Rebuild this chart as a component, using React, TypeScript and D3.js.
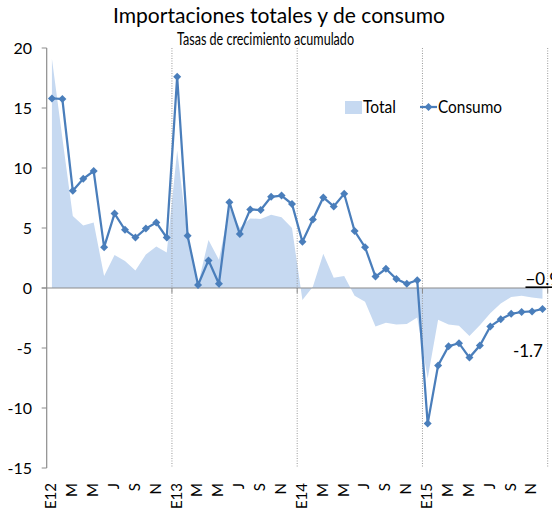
import React, { useEffect, useRef } from "react";
import * as d3 from "d3";

// meses ene-2012 .. dic-2015
const months = d3.range(48).map((i) => "m" + i);
const tickLabels = [
  "E12", "M", "M", "J", "S", "N",
  "E13", "M", "M", "J", "S", "N",
  "E14", "M", "M", "J", "S", "N",
  "E15", "M", "M", "J", "S", "N",
];
const yTicks = [-15, -10, -5, 0, 5, 10, 15, 20];

const total = [
  19.1, 12.5, 6.0, 5.2, 5.45, 1.0, 2.75, 2.25, 1.45, 2.8, 3.45, 2.95,
  11.45, 4.3, 0.3, 4.0, 2.35, 6.7, 5.0, 5.8, 5.75, 6.1, 5.9, 5.0,
  -1.0, 0.1, 2.85, 0.85, 1.0, -0.65, -1.15, -3.2, -2.9, -3.05, -3.0, -2.45,
  -7.55, -2.65, -3.05, -3.15, -4.0, -3.1, -2.1, -1.3, -0.75, -0.65, -0.8, -0.9,
];
const consumo = [
  15.8, 15.75, 8.1, 9.1, 9.75, 3.4, 6.2, 4.85, 4.2, 4.95, 5.45, 4.2,
  17.6, 4.35, 0.25, 2.3, 0.35, 7.15, 4.5, 6.55, 6.5, 7.6, 7.7, 7.0,
  3.85, 5.7, 7.55, 6.8, 7.85, 4.75, 3.4, 0.95, 1.6, 0.75, 0.35, 0.65,
  -11.3, -6.45, -4.85, -4.6, -5.8, -4.8, -3.2, -2.6, -2.15, -2.0, -1.95, -1.75,
];

const FONT = "Lato, 'Open Sans', sans-serif";
const BLUE = "#4a7ebb";
const FILL = "#c6d9f1";
const AXIS = "#8c8c8c";

const diamond = "M0,-4L4,0L0,4L-4,0Z";

const App = () => {
  const ref = useRef<SVGSVGElement>(null);

  useEffect(() => {
    const W = 552;
    const H = 518;
    const margin = { top: 48, right: 4.3, bottom: 50, left: 46.7 };

    const svg = d3.select(ref.current);
    svg.selectAll("*").remove();

    const x = d3
      .scaleBand()
      .domain(months)
      .range([margin.left, W - margin.right])
      .padding(0);
    const cx = (i: number) => (x(months[i]) as number) + x.bandwidth() / 2;
    const y = d3.scaleLinear().domain([-15, 20]).range([H - margin.bottom, margin.top]);

    // titulo
    svg
      .append("text")
      .attr("x", 279)
      .attr("y", 23)
      .attr("text-anchor", "middle")
      .attr("textLength", 332)
      .attr("lengthAdjust", "spacingAndGlyphs")
      .style("font-family", FONT)
      .style("font-size", "22px")
      .attr("fill", "#000")
      .text("Importaciones totales y de consumo");

    svg
      .append("text")
      .attr("x", 265.5)
      .attr("y", 45)
      .attr("text-anchor", "middle")
      .attr("textLength", 177)
      .attr("lengthAdjust", "spacingAndGlyphs")
      .style("font-family", FONT)
      .style("font-size", "17.5px")
      .attr("fill", "#000")
      .text("Tasas de crecimiento acumulado");

    // area total
    const area = d3
      .area<number>()
      .x((d, i) => cx(i))
      .y0(y(0))
      .y1((d) => y(d));
    svg.append("path").datum(total).attr("d", area).attr("fill", FILL);

    // lineas verticales por año
    const yearEdges = [12, 24, 36, 48];
    yearEdges.forEach((k) => {
      const xx = k < 48 ? (x(months[k]) as number) : W - margin.right;
      svg
        .append("line")
        .attr("x1", xx)
        .attr("x2", xx)
        .attr("y1", y(20))
        .attr("y2", y(-15))
        .attr("stroke", "#999")
        .attr("stroke-width", 1)
        .attr("stroke-dasharray", "1,1.5");
      svg
        .append("line")
        .attr("x1", xx)
        .attr("x2", xx)
        .attr("y1", y(0))
        .attr("y2", y(0) + 5)
        .attr("stroke", AXIS);
    });

    // eje y
    svg
      .append("line")
      .attr("x1", margin.left)
      .attr("x2", margin.left)
      .attr("y1", y(20))
      .attr("y2", y(-15))
      .attr("stroke", AXIS)
      .attr("stroke-width", 1.2);
    yTicks.forEach((t) => {
      svg
        .append("line")
        .attr("x1", margin.left - 5)
        .attr("x2", margin.left)
        .attr("y1", y(t))
        .attr("y2", y(t))
        .attr("stroke", AXIS);
      svg
        .append("text")
        .attr("x", 32)
        .attr("y", y(t))
        .attr("dy", "0.36em")
        .attr("text-anchor", "end")
        .style("font-family", FONT)
        .style("font-size", "16px")
        .attr("fill", "#000")
        .text(t);
    });

    // eje x en cero
    svg
      .append("line")
      .attr("x1", margin.left - 5)
      .attr("x2", W - margin.right)
      .attr("y1", y(0))
      .attr("y2", y(0))
      .attr("stroke", AXIS)
      .attr("stroke-width", 1.2);

    // etiquetas de meses
    tickLabels.forEach((lab, k) => {
      const xx = cx(k * 2);
      svg
        .append("text")
        .attr("transform", `translate(${xx - 1},${H - 35}) rotate(-90)`)
        .attr("dy", "0.36em")
        .attr("text-anchor", "end")
        .style("font-family", FONT)
        .style("font-size", "15px")
        .attr("fill", "#000")
        .text(lab);
    });

    // linea consumo
    const line = d3
      .line<number>()
      .x((d, i) => cx(i))
      .y((d) => y(d));
    svg
      .append("path")
      .datum(consumo)
      .attr("d", line)
      .attr("fill", "none")
      .attr("stroke", BLUE)
      .attr("stroke-width", 2.25);
    svg
      .selectAll(".mk")
      .data(consumo)
      .enter()
      .append("path")
      .attr("class", "mk")
      .attr("d", diamond)
      .attr("transform", (d, i) => `translate(${cx(i)},${y(d)})`)
      .attr("fill", BLUE);

    // etiquetas finales (la de -0.9 queda recortada en el borde, como en el original)
    const last = total.length - 1;
    svg
      .append("text")
      .attr("x", cx(last) - 17)
      .attr("y", y(0) - 3.5)
      .style("font-family", FONT)
      .style("font-size", "17px")
      .attr("fill", "#000")
      .text(d3.format(".1f")(total[last]));
    svg
      .append("line")
      .attr("x1", cx(last) - 17)
      .attr("x2", W)
      .attr("y1", y(0) - 0.8)
      .attr("y2", y(0) - 0.8)
      .attr("stroke", "#000")
      .attr("stroke-width", 1.6);
    svg
      .append("text")
      .attr("x", cx(last) + 0.5)
      .attr("y", y(consumo[last]) + 48)
      .attr("text-anchor", "end")
      .style("font-family", FONT)
      .style("font-size", "17px")
      .attr("fill", "#000")
      .text(Math.trunc(consumo[last] * 10) / 10);

    // leyenda
    const lg = svg.append("g").attr("transform", "translate(345,101)");
    lg.append("rect").attr("width", 17).attr("height", 13).attr("fill", FILL);
    lg.append("text")
      .attr("x", 18)
      .attr("y", 12)
      .attr("textLength", 33)
      .attr("lengthAdjust", "spacingAndGlyphs")
      .style("font-family", FONT)
      .style("font-size", "18px")
      .attr("fill", "#000")
      .text("Total");
    lg.append("line")
      .attr("x1", 75)
      .attr("x2", 92)
      .attr("y1", 6)
      .attr("y2", 6)
      .attr("stroke", BLUE)
      .attr("stroke-width", 2.25);
    lg.append("path").attr("d", diamond).attr("transform", "translate(83.5,6)").attr("fill", BLUE);
    lg.append("text")
      .attr("x", 93)
      .attr("y", 12)
      .attr("textLength", 64)
      .attr("lengthAdjust", "spacingAndGlyphs")
      .style("font-family", FONT)
      .style("font-size", "18px")
      .attr("fill", "#000")
      .text("Consumo");
  }, []);

  return (
    <svg
      ref={ref}
      width={552}
      height={518}
      style={{ position: "absolute", left: 0, top: 0, background: "#fff" }}
    ></svg>
  );
};

export default App;
